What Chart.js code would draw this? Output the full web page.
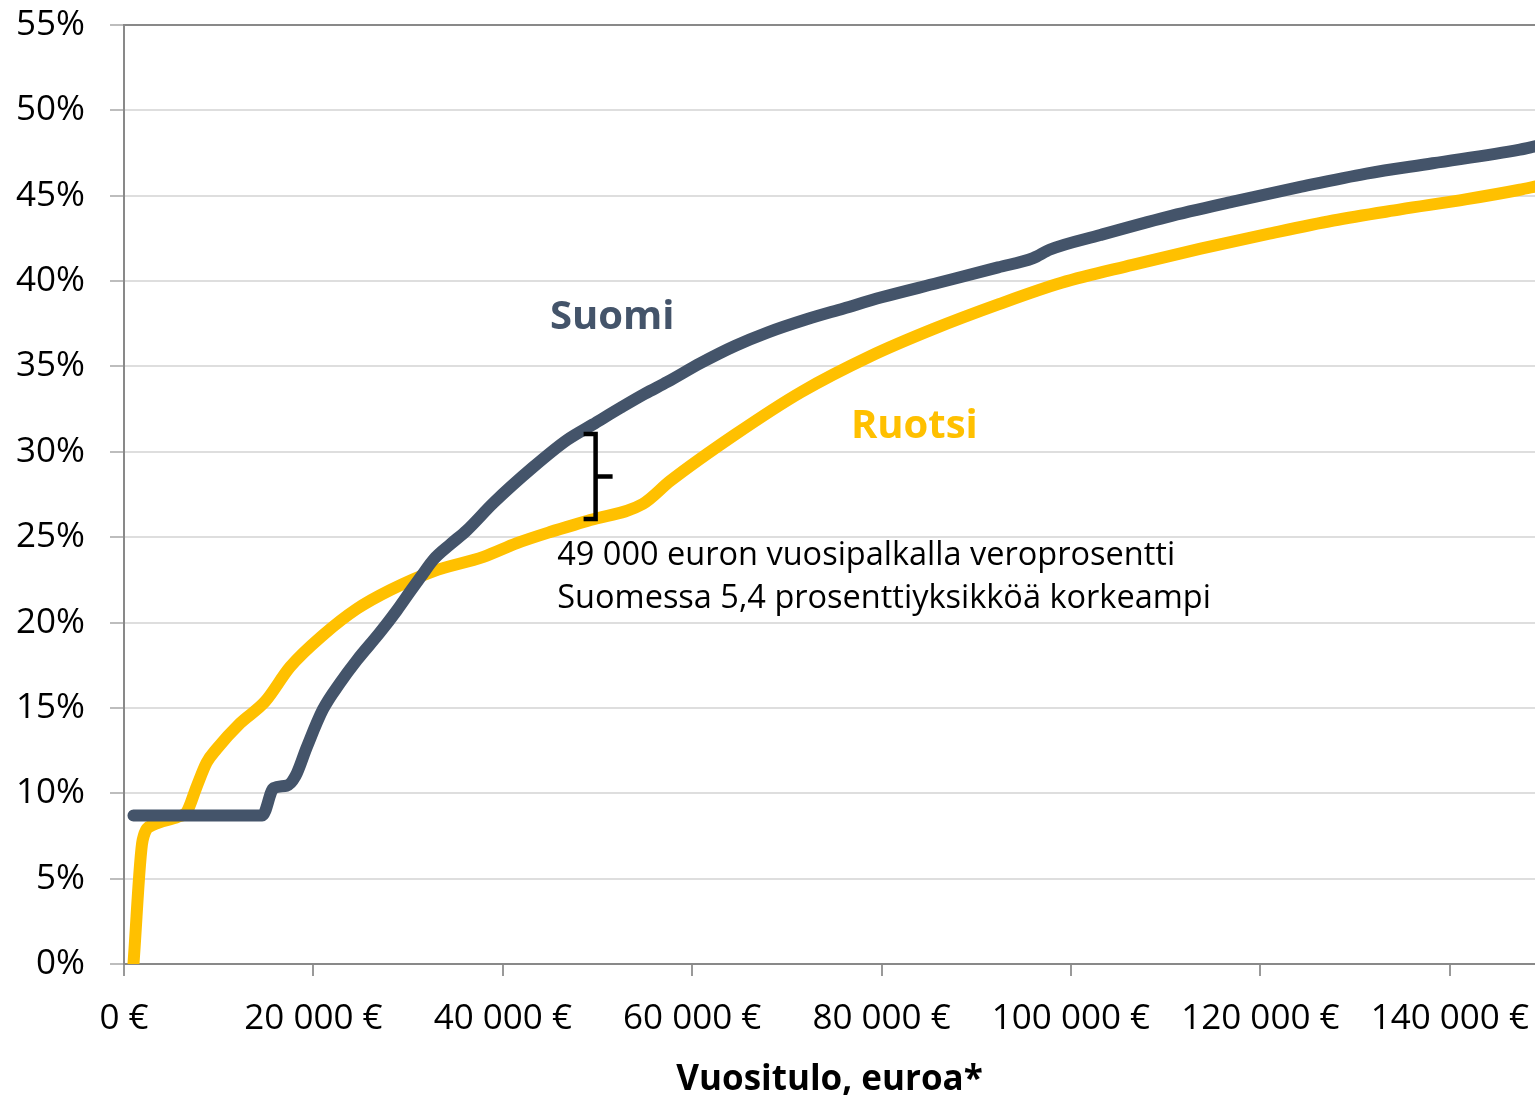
<!DOCTYPE html>
<html>
<head>
<meta charset="utf-8">
<script src="https://cdn.jsdelivr.net/npm/chart.js@4.4.1/dist/chart.umd.min.js"></script>
<style>
  html, body { margin: 0; padding: 0; background: #fff; }
  #wrap { width: 1535px; height: 1095px; position: relative; }
</style>
</head>
<body>
<div id="wrap"><canvas id="chart"></canvas></div>
<script>
// income (euros per year) and tax rate (%)
const suomiIncome = [1000, 14600, 15800, 17200, 18100, 19300, 21000, 22800, 24600, 27000, 28800, 30200, 31500, 32700, 34500, 36200, 39000, 43200, 46800, 49500, 52500, 55000, 57400, 60900, 64500, 68000, 72000, 76000, 80000, 86000, 92300, 96000, 97800, 103100, 110100, 117100, 124100, 131200, 138200, 147400, 149100];
const suomiRate = [8.7, 8.7, 10.3, 10.45, 11.0, 12.7, 14.9, 16.45, 17.8, 19.4, 20.7, 21.8, 22.8, 23.7, 24.6, 25.4, 27.0, 29.1, 30.7, 31.6, 32.6, 33.4, 34.1, 35.2, 36.2, 37.0, 37.75, 38.4, 39.05, 39.9, 40.8, 41.35, 41.85, 42.7, 43.75, 44.65, 45.5, 46.3, 46.9, 47.7, 47.9];

const ruotsiIncome = [1000, 1970, 3060, 5700, 6620, 7680, 8730, 9790, 12260, 14900, 17540, 21030, 24580, 28100, 32650, 37960, 41490, 45000, 49230, 54800, 57700, 64500, 71500, 78800, 85500, 92400, 99000, 106500, 113700, 120700, 127700, 134800, 141800, 147400, 149100];
const ruotsiRate = [0, 7.26, 8.14, 8.63, 8.9, 10.4, 11.8, 12.6, 14.1, 15.37, 17.4, 19.27, 20.8, 21.9, 23.0, 23.85, 24.65, 25.3, 26.0, 26.95, 28.3, 31.0, 33.5, 35.6, 37.2, 38.65, 39.9, 40.95, 41.9, 42.75, 43.55, 44.2, 44.8, 45.35, 45.55];

const seriesNames = ['Suomi', 'Ruotsi'];
const xTicks = [0, 20000, 40000, 60000, 80000, 100000, 120000, 140000];
const xMax = 149000;
const yMax = 55;

const noteLines = ['49 000 euron vuosipalkalla veroprosentti', 'Suomessa 5,4 prosenttiyksikköä korkeampi'];

const toPoints = (xs, ys) => xs.map((x, i) => ({ x, y: ys[i] }));
const euro = (v) => String(v).replace(/\B(?=(\d{3})+(?!\d))/g, ' ') + ' €';

const annotations = {
  id: 'annotations',
  afterDatasetsDraw(chart) {
    const { ctx, scales: { x, y } } = chart;
    ctx.save();
    ctx.textBaseline = 'middle';
    ctx.textAlign = 'center';
    ctx.font = 'bold 40px "Open Sans"';
    ctx.fillStyle = '#44546A';
    ctx.fillText('Suomi', x.getPixelForValue(51560), y.getPixelForValue(37.85));
    ctx.fillStyle = '#FFC000';
    ctx.fillText('Ruotsi', x.getPixelForValue(83460), y.getPixelForValue(31.5));

    ctx.textAlign = 'left';
    ctx.font = '32.5px "Open Sans"';
    ctx.fillStyle = '#000';
    ctx.fillText(noteLines[0], x.getPixelForValue(45750), y.getPixelForValue(23.9));
    ctx.fillText(noteLines[1], x.getPixelForValue(45750), y.getPixelForValue(21.4));

    // bracket between the two lines at 49 000 €
    const bx = x.getPixelForValue(49800);
    const top = y.getPixelForValue(31.05);
    const bot = y.getPixelForValue(26.07);
    const mid = (top + bot) / 2;
    ctx.strokeStyle = '#000';
    ctx.lineWidth = 4.5;
    ctx.beginPath();
    ctx.moveTo(bx - 12, top);
    ctx.lineTo(bx, top);
    ctx.lineTo(bx, bot);
    ctx.lineTo(bx - 12, bot);
    ctx.moveTo(bx, mid);
    ctx.lineTo(bx + 17, mid);
    ctx.stroke();
    ctx.restore();
  },
};

const lineStyle = {
  borderWidth: 12,
  borderCapStyle: 'round',
  borderJoinStyle: 'round',
  pointRadius: 0,
  cubicInterpolationMode: 'monotone',
};

new Chart(document.getElementById('chart'), {
  type: 'line',
  data: {
    datasets: [
      { label: seriesNames[0], data: toPoints(suomiIncome, suomiRate), borderColor: '#44546A', ...lineStyle },
      { label: seriesNames[1], data: toPoints(ruotsiIncome, ruotsiRate), borderColor: '#FFC000', ...lineStyle },
    ],
  },
  plugins: [annotations],
  options: {
    responsive: true,
    maintainAspectRatio: false,
    animation: false,
    layout: { padding: { top: 25, right: 0, left: 0, bottom: 0 } },
    plugins: {
      legend: { display: false },
      tooltip: { enabled: false },
    },
    scales: {
      x: {
        type: 'linear',
        min: 0,
        max: xMax,
        afterBuildTicks: (scale) => { scale.ticks = xTicks.map((value) => ({ value })); },
        afterFit: (scale) => {
          scale.height = 131;
          scale.paddingLeft = 0;
          scale.paddingRight = 0;
        },
        border: { color: '#898989', width: 2 },
        grid: { drawOnChartArea: false, drawTicks: true, tickLength: 12, color: '#999', lineWidth: 2 },
        ticks: {
          maxRotation: 0,
          autoSkip: false,
          padding: 22,
          color: '#000',
          font: { family: '"Open Sans"', size: 35 },
          callback: (v) => euro(v),
        },
        title: {
          display: true,
          text: 'Vuositulo, euroa*',
          color: '#000',
          font: { family: '"Open Sans"', size: 35, weight: 'bold' },
          padding: { top: 0, bottom: -6 },
        },
      },
      y: {
        min: 0,
        max: yMax,
        afterFit: (scale) => {
          scale.width = 124;
          scale.paddingTop = 0;
          scale.paddingBottom = 0;
        },
        border: { color: '#898989', width: 2 },
        grid: {
          tickLength: 14,
          lineWidth: 2,
          color: (c) => (c.tick && c.tick.value === yMax ? '#898989' : '#dedede'),
          tickColor: '#bdbdbd',
        },
        ticks: {
          stepSize: 5,
          padding: 25,
          color: '#000',
          font: { family: '"Open Sans"', size: 35 },
          callback: (v) => v + '%',
        },
      },
    },
  },
});
</script>
</body>
</html>
